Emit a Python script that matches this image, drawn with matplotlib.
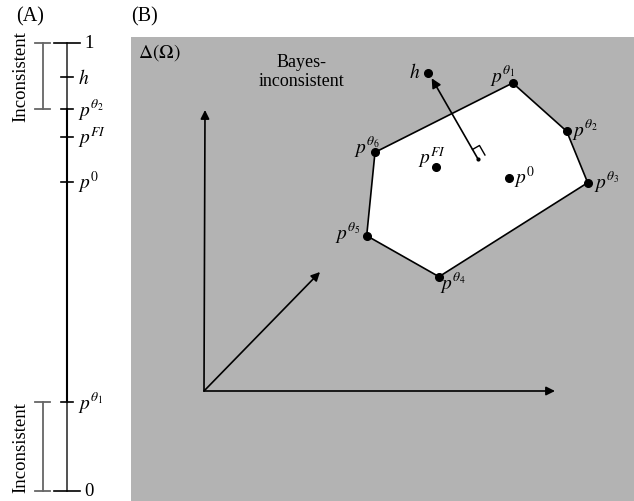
import numpy as np
import matplotlib.pyplot as plt
from matplotlib.patches import Polygon, Rectangle

plt.rcParams['font.family'] = ['Liberation Serif', 'DejaVu Serif']
plt.rcParams['mathtext.fontset'] = 'stix'

# Panel A: positions on the [0, 1] line
line_names = [r'$h$', r'$p^{\theta_2}$', r'$p^{FI}$', r'$p^{0}$', r'$p^{\theta_1}$']
line_values = [0.924, 0.853, 0.790, 0.690, 0.199]
inconsistent_ranges = [(0.853, 1.0), (0.0, 0.199)]

# Panel B: points in the simplex (pixel coordinates of the sketch)
vertex_names = [r'$p^{\theta_1}$', r'$p^{\theta_2}$', r'$p^{\theta_3}$',
                r'$p^{\theta_4}$', r'$p^{\theta_5}$', r'$p^{\theta_6}$']
vertex_x = [512.7, 566.7, 587.7, 439.0, 366.7, 375.0]
vertex_y = [84.0, 132.3, 183.7, 277.7, 236.7, 153.3]
label_x = [502.7, 585.0, 606.7, 453.0, 348.0, 366.7]
label_y = [75.0, 130.0, 181.7, 283.0, 233.0, 146.7]

inner_names = [r'$p^{FI}$', r'$p^{0}$', r'$h$']
inner_x = [436.0, 509.0, 428.3]
inner_y = [167.7, 179.3, 74.0]
inner_label_x = [431.7, 525.0, 415.0]
inner_label_y = [158.0, 178.0, 73.0]

origin = (204, 392)
axis_tips = [(205, 111), (555, 392), (320, 273)]
normal_base = (478, 160)
normal_tip = (431.7, 79.3)

fig = plt.figure(figsize=(6.34, 5.02), dpi=100)

# ---------------- Panel A ----------------
ax_a = fig.add_axes([0, 10 / 502, 120 / 634, 448 / 502])
ax_a.set_xlim(0, 120)
ax_a.set_ylim(0, 1)
ax_a.axis('off')

xl = 67
ax_a.plot([xl, xl], [inconsistent_ranges[0][0], 1], color='#333333', lw=1.2, clip_on=False)
ax_a.plot([xl, xl], [inconsistent_ranges[1][1], inconsistent_ranges[0][0]], color='black', lw=1.5, clip_on=False)
ax_a.plot([xl, xl], [0, inconsistent_ranges[1][1]], color='#333333', lw=1.2, clip_on=False)
for v, lab in [(1, '1'), (0, '0')]:
    ax_a.plot([54, 80], [v, v], color='black', lw=1.2, clip_on=False)
    ax_a.text(84, v, lab, fontsize=13.5, va='center', ha='left')
for name, v in zip(line_names, line_values):
    ax_a.plot([61, 73], [v, v], color='black', lw=1.2, clip_on=False)
    ax_a.text(78, v, name, fontsize=14, va='center', ha='left')

for lo, hi in inconsistent_ranges:
    ax_a.plot([42.5, 42.5], [lo, hi], color='#666666', lw=1.3, clip_on=False)
    for v in (lo, hi):
        ax_a.plot([35, 50], [v, v], color='#666666', lw=1.3, clip_on=False)
    ax_a.text(21, (lo + hi) / 2, 'Inconsistent', rotation=90, fontsize=13.5,
              va='center', ha='center')

fig.text(30 / 634, 1 - 17 / 502, '(A)', fontsize=14.5, ha='center', va='center')
fig.text(145 / 634, 1 - 17 / 502, '(B)', fontsize=14.5, ha='center', va='center')

# ---------------- Panel B ----------------
ax = fig.add_axes([0, 0, 1, 1])
ax.set_xlim(0, 634)
ax.set_ylim(502, 0)
ax.axis('off')
ax.patch.set_alpha(0)

ax.add_patch(Rectangle((131, 38), 634 - 131, 502 - 38, facecolor='#b3b3b3', edgecolor='none'))
ax.text(138, 53, r'$\Delta(\Omega)$', fontsize=14, va='center', ha='left')
ax.text(302, 72, 'Bayes-\ninconsistent', fontsize=13, va='center', ha='center',
        linespacing=1.15)

for tip in axis_tips:
    ax.annotate('', xy=tip, xytext=origin,
                arrowprops=dict(arrowstyle='-|>', color='black', lw=1.2,
                                mutation_scale=13, shrinkA=0, shrinkB=0))

ax.add_patch(Polygon(np.column_stack([vertex_x, vertex_y]), closed=True,
                     facecolor='white', edgecolor='black', lw=1.2))
ax.plot(vertex_x, vertex_y, 'o', color='black', ms=5.5)
for name, lx, ly in zip(vertex_names, label_x, label_y):
    ax.text(lx, ly, name, fontsize=14, ha='center', va='center')

ax.plot(inner_x, inner_y, 'o', color='black', ms=5.5)
for name, lx, ly in zip(inner_names, inner_label_x, inner_label_y):
    ax.text(lx, ly, name, fontsize=14, ha='center', va='center')

# normal vector with right-angle mark
ax.annotate('', xy=normal_tip, xytext=normal_base,
            arrowprops=dict(arrowstyle='-|>', color='black', lw=1.2,
                            mutation_scale=14, shrinkA=0, shrinkB=0))
ax.plot(*normal_base, 'o', color='black', ms=2)
b = np.array(normal_base)
d = np.array(normal_tip) - b
u = d / np.linalg.norm(d)
perp = np.array([-u[1], u[0]])
if perp[0] < 0:
    perp = -perp
corner = np.array([b + 11 * u, b + 11 * u + 8 * perp, b + 8 * perp])
ax.plot(corner[:, 0], corner[:, 1], color='black', lw=1.0)

fig.savefig('out.png', dpi=100)
